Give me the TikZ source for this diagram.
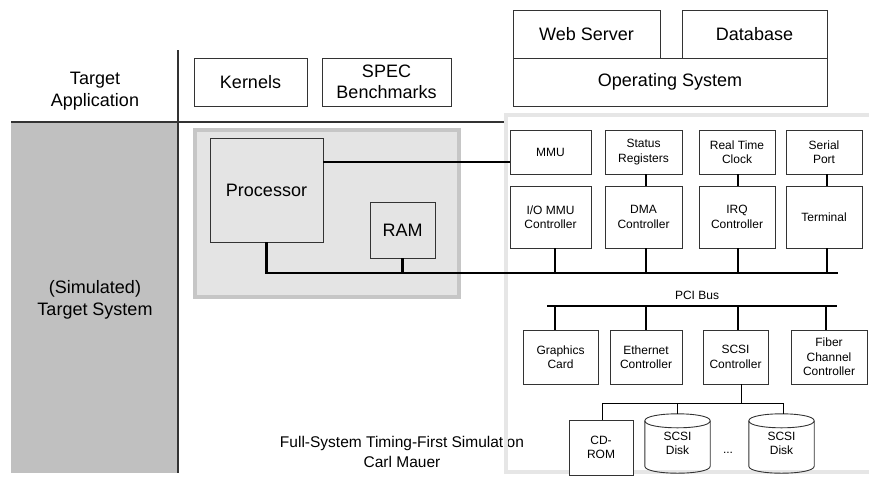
\documentclass[tikz,border=0pt]{standalone}
\usepackage{fontspec}
\setmainfont{Liberation Sans}
\usetikzlibrary{calc}
\definecolor{leftgray}{HTML}{C0C0C0}
\definecolor{regfill}{HTML}{E4E4E4}
\definecolor{regedge}{HTML}{C6C6C6}
\definecolor{outergray}{HTML}{E6E6E6}
\definecolor{edge}{HTML}{333333}
\begin{document}
\begin{tikzpicture}[x=1pt,y=-1pt,
  big/.style={font=\fontsize{18}{21.5}\selectfont, align=center},
  small/.style={font=\fontsize{12}{14.5}\selectfont, align=center},
  box/.style={draw=edge, line width=0.9pt, fill=white, inner sep=0pt, rectangle},
  bigbox/.style={box, big},
  smallbox/.style={box, small},
  diskbox/.style={inner sep=0pt, rectangle, small, minimum width=65pt, minimum height=45pt},
  bus/.style={line width=2.2pt, black},
  thinline/.style={line width=0.9pt, black},
  sepline/.style={line width=1.2pt, edge}]
\useasboundingbox (0,0) rectangle (869,483);

% left column
\fill[leftgray] (11,122) rectangle (178,473);
\coordinate (septop) at (178,50);
\coordinate (sepbot) at (178,473);
\draw[sepline] (septop) -- (sepbot);
\coordinate (hl) at (11,122);
\coordinate (hr) at (504,122);
\draw[sepline] (hl) -- (hr);
\node[big] (tapp) at (95,91) {Target\\Application};
\node[big] (tsys) at (95,300) {(Simulated)\\Target System};

% caption
\node[font=\fontsize{15.5}{19.5}\selectfont, align=center] (cap) at (402,452) {Full-System Timing-First Simulation\\Carl Mauer};

% outer grey box
\draw[outergray, line width=3.5pt] (506,115) rectangle (890,472);

% processor region
\draw[regedge, fill=regfill, line width=4pt] (195,130) rectangle (459,297);

% application boxes
\node[bigbox, minimum width=113pt, minimum height=48pt] (kern) at (250.5,82) {Kernels};
\node[bigbox, minimum width=129pt, minimum height=48pt] (spec) at (386.5,82) {SPEC\\Benchmarks};
\node[bigbox, minimum width=314pt, minimum height=48pt] (os) at (670,82) {Operating System};
\node[bigbox, minimum width=147pt, minimum height=48pt] (web) at (586.5,34) {Web Server};
\node[bigbox, minimum width=145pt, minimum height=48pt] (db) at (754.5,34) {Database};

% processor and RAM
\node[bigbox, fill=regfill, minimum width=113pt, minimum height=104pt] (proc) at (266.5,190) {Processor};
\node[bigbox, fill=regfill, minimum width=65pt, minimum height=56pt] (ram) at (402.5,230) {RAM};

% device rows
\node[smallbox, minimum width=81pt, minimum height=44pt] (mmu) at (550.5,152) {MMU};
\node[smallbox, minimum width=77pt, minimum height=44pt] (stat) at (643.5,152) {Status\\Registers};
\node[smallbox, minimum width=76pt, minimum height=44pt] (rtc) at (737,152) {Real Time\\Clock};
\node[smallbox, minimum width=76pt, minimum height=44pt] (serial) at (824,152) {Serial\\Port};
\node[smallbox, minimum width=81pt, minimum height=62pt] (iommu) at (550.5,217) {I/O MMU\\Controller};
\node[smallbox, minimum width=77pt, minimum height=62pt] (dma) at (643.5,217) {DMA\\Controller};
\node[smallbox, minimum width=76pt, minimum height=62pt] (irq) at (737,217) {IRQ\\Controller};
\node[smallbox, minimum width=76pt, minimum height=62pt] (term) at (824,217) {Terminal};

\node[smallbox, minimum width=75pt, minimum height=54pt] (gfx) at (560.5,357) {Graphics\\Card};
\node[smallbox, minimum width=72pt, minimum height=54pt] (eth) at (646,357) {Ethernet\\Controller};
\node[smallbox, minimum width=65pt, minimum height=54pt] (scsi) at (735.5,357) {SCSI\\Controller};
\node[smallbox, minimum width=76pt, minimum height=54pt] (fiber) at (829,357) {Fiber\\Channel\\Controller};

\node[smallbox, minimum width=64pt, minimum height=55pt] (cdrom) at (601,447.5) {CD-\\ROM};
\node[diskbox] (disk1) at (677.5,443.5) {SCSI\\Disk};
\node[diskbox] (disk2) at (781.5,443.5) {SCSI\\Disk};
\node[small] (dots) at (728,453) {...};
\foreach \d in {disk1,disk2}{
  \draw[draw=edge, line width=0.9pt]
    (\d.north west) -- (\d.south west)
    .. controls +(0,9.33) and +(0,9.33) .. (\d.south east) -- (\d.north east);
  \draw[draw=edge, line width=0.9pt]
    (\d.north west) .. controls +(0,-9.33) and +(0,-9.33) .. (\d.north east)
    .. controls +(0,9.33) and +(0,9.33) .. (\d.north west);
}

% processor connections
\coordinate (pm) at (323,162);
\draw[bus] (pm) -- (pm -| mmu.west);
\coordinate (busL) at (266.5,273);
\coordinate (busR) at (838,273);
\draw[bus] (proc.south) -- (busL) -- (busR);
\draw[bus] (ram.south) -- (ram.south |- busR);

% column drops from main bus
\coordinate (b1) at (555,273);
\coordinate (b2) at (646,273);
\coordinate (b3) at (738,273);
\coordinate (b4) at (827,273);
\draw[bus] (b1) -- (b1 |- iommu.south);
\draw[bus] (b2) -- (b2 |- dma.south);
\draw[bus] (b3) -- (b3 |- irq.south);
\draw[bus] (b4) -- (b4 |- term.south);
\draw[bus] (b2 |- stat.south) -- (b2 |- dma.north);
\draw[bus] (b3 |- rtc.south) -- (b3 |- irq.north);
\draw[bus] (b4 |- serial.south) -- (b4 |- term.north);

% PCI bus
\coordinate (pL) at (547,306);
\coordinate (pR) at (837,306);
\draw[bus] (pL) -- (pR);
\node[small] (pcilabel) at (697,295) {PCI Bus};
\coordinate (p1) at (555,306);
\coordinate (p2) at (646,306);
\coordinate (p3) at (738,306);
\coordinate (p4) at (826,306);
\draw[bus] (p1) -- (p1 |- gfx.north);
\draw[bus] (p2) -- (p2 |- eth.north);
\draw[bus] (p3) -- (p3 |- scsi.north);
\draw[bus] (p4) -- (p4 |- fiber.north);

% SCSI tree
\coordinate (st) at (741,403);
\coordinate (sL) at (602,403);
\coordinate (sR) at (783,403);
\draw[thinline] (st |- scsi.south) -- (st);
\draw[thinline] (sL) -- (sR);
\draw[thinline] (sL) -- (sL |- cdrom.north);
\draw[thinline] (disk1.north |- sL) -- ($(disk1.north)+(0,-7)$);
\draw[thinline] (sR) -- ($(sR |- disk2.north)+(0,-7)$);
\end{tikzpicture}
\end{document}
